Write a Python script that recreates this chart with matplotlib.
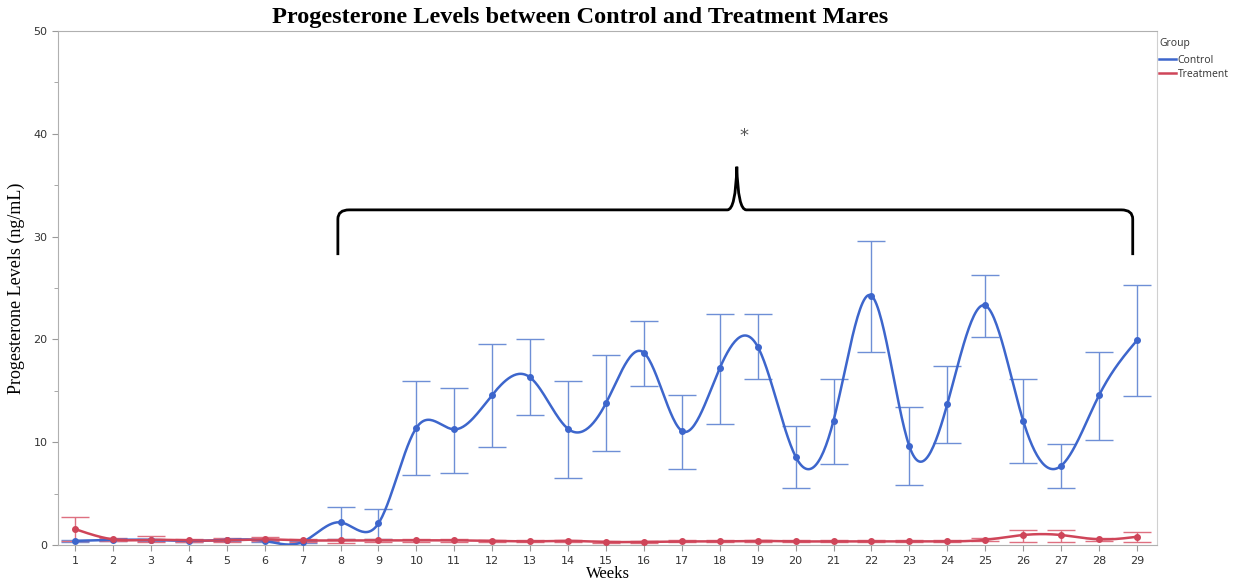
import matplotlib
matplotlib.use('Agg')
import matplotlib.pyplot as plt
from matplotlib.path import Path
from matplotlib.patches import PathPatch
from matplotlib.lines import Line2D
import numpy as np

## ======= data ======= ##
weeks = np.arange(1, 30)

ctrl_mean = [0.4, 0.5, 0.5, 0.4, 0.5, 0.4, 0.3, 2.2, 2.1, 11.4, 11.25, 14.6, 16.3, 11.3, 13.8,
             18.7, 11.1, 17.2, 19.3, 8.6, 12.1, 24.25, 9.6, 13.7, 23.3, 12.1, 7.7, 14.55, 19.9]
ctrl_top = [0.5, 0.6, 0.6, 0.5, 0.6, 0.5, 0.4, 3.7, 3.5, 16.0, 15.3, 19.6, 20.0, 16.0, 18.5,
            21.8, 14.6, 22.5, 22.5, 11.6, 16.1, 29.6, 13.4, 17.4, 26.3, 16.1, 9.8, 18.8, 25.3]
ctrl_bot = [0.3, 0.4, 0.4, 0.3, 0.4, 0.3, 0.2, 0.6, 0.6, 6.8, 7.0, 9.5, 12.6, 6.5, 9.1,
            15.5, 7.4, 11.8, 16.1, 5.5, 7.9, 18.8, 5.8, 9.9, 20.2, 8.0, 5.5, 10.2, 14.5]

trt_mean = [1.55, 0.55, 0.5, 0.45, 0.45, 0.55, 0.45, 0.45, 0.45, 0.45, 0.45, 0.4, 0.35, 0.4, 0.3,
            0.3, 0.35, 0.35, 0.4, 0.35, 0.35, 0.35, 0.35, 0.35, 0.5, 0.97, 0.97, 0.55, 0.8]
trt_top = [2.75, 0.7, 0.85, 0.6, 0.7, 0.75, 0.6, 0.6, 0.55, 0.55, 0.55, 0.5, 0.45, 0.5, 0.4,
           0.4, 0.45, 0.45, 0.5, 0.45, 0.45, 0.45, 0.45, 0.45, 0.65, 1.46, 1.46, 0.65, 1.23]
trt_bot = [0.35, 0.35, 0.25, 0.25, 0.3, 0.35, 0.3, 0.2, 0.25, 0.3, 0.3, 0.3, 0.25, 0.3, 0.2,
           0.2, 0.25, 0.25, 0.3, 0.25, 0.25, 0.25, 0.25, 0.25, 0.35, 0.32, 0.32, 0.4, 0.26]

blue = '#3D66CC'
blue_err = '#6E8FD6'
red = '#CF4559'
red_err = '#DE7080'


def natural_spline(x, y, n=30):
    # natural cubic spline through the weekly means, used only to draw the smooth line
    x = np.asarray(x, float)
    y = np.asarray(y, float)
    k = len(x)
    h = np.diff(x)
    A = np.zeros((k, k))
    r = np.zeros(k)
    A[0, 0] = A[-1, -1] = 1
    for i in range(1, k - 1):
        A[i, i - 1] = h[i - 1]
        A[i, i] = 2 * (h[i - 1] + h[i])
        A[i, i + 1] = h[i]
        r[i] = 6 * ((y[i + 1] - y[i]) / h[i] - (y[i] - y[i - 1]) / h[i - 1])
    M = np.linalg.solve(A, r)
    xs, ys = [], []
    for i in range(k - 1):
        t = np.linspace(x[i], x[i + 1], n, endpoint=(i == k - 2))
        a = x[i + 1] - t
        b = t - x[i]
        s = (M[i] * a ** 3 + M[i + 1] * b ** 3) / (6 * h[i]) \
            + (y[i] / h[i] - M[i] * h[i] / 6) * a + (y[i + 1] / h[i] - M[i + 1] * h[i] / 6) * b
        xs.append(t)
        ys.append(s)
    return np.concatenate(xs), np.concatenate(ys)


fig = plt.figure(figsize=(12.38, 5.8), dpi=100)
ax = fig.add_axes([58 / 1238, 35 / 580, 1099 / 1238, 514 / 580])

for m, top, bot, ec, lc in [(ctrl_mean, ctrl_top, ctrl_bot, blue_err, blue),
                            (trt_mean, trt_top, trt_bot, red_err, red)]:
    m = np.array(m)
    yerr = [m - np.array(bot), np.array(top) - m]
    ax.errorbar(weeks, m, yerr=yerr, fmt='none', ecolor=ec, elinewidth=1.0,
                capsize=10, capthick=1.0, zorder=2)
    sx, sy = natural_spline(weeks, m)
    ax.plot(sx, sy, color=lc, lw=1.8, zorder=3)
    ax.plot(weeks, m, 'o', color=lc, markersize=4, zorder=4)

ax.set_xlim(0.55, 29.53)
ax.set_ylim(0, 50)
ax.set_xticks(weeks)
ax.set_yticks(np.arange(0, 51, 10))
ax.set_yticks(np.arange(5, 50, 10), minor=True)
ax.tick_params(axis='both', colors='#999999', labelcolor='#333333', labelsize=8, length=4)
ax.tick_params(axis='x', pad=4)
ax.tick_params(axis='y', which='minor', colors='#999999', length=3)
for sp in ax.spines.values():
    sp.set_color('#B0B0B0')
ax.spines['right'].set_color('#D0D0D0')
for lab in ax.get_xticklabels() + ax.get_yticklabels():
    lab.set_family('DejaVu Sans')

ax.set_xlabel('Weeks', family='Liberation Serif', fontsize=12, labelpad=0)
ax.set_ylabel('Progesterone Levels (ng/mL)', family='Liberation Serif', fontsize=13, labelpad=6)

fig.text(580 / 1238, 1 - 17 / 580, 'Progesterone Levels between Control and Treatment Mares',
         family='Liberation Serif', weight='bold', fontsize=17.5, ha='center', va='center')

# significance brace over weeks 8-29
xl, xr, xc = 7.93, 28.89, 18.45
yb, yh, yt = 28.2, 32.6, 36.8
verts = [(xl, yb), (xl, yh - 0.9), (xl, yh), (xl + 0.3, yh),
         (xc - 0.25, yh), (xc - 0.03, yh), (xc, yt),
         (xc + 0.03, yh), (xc + 0.25, yh),
         (xr - 0.3, yh), (xr, yh), (xr, yh - 0.9), (xr, yb)]
codes = [Path.MOVETO, Path.LINETO, Path.CURVE3, Path.CURVE3,
         Path.LINETO, Path.CURVE3, Path.CURVE3,
         Path.CURVE3, Path.CURVE3,
         Path.LINETO, Path.CURVE3, Path.CURVE3, Path.LINETO]
ax.add_patch(PathPatch(Path(verts, codes), fill=False, lw=2, edgecolor='black', zorder=5))
ax.text(18.65, 39.8, '*', fontsize=13, color='#555555', ha='center', va='center',
        family='DejaVu Sans')

handles = [Line2D([], [], color=blue, lw=1.8), Line2D([], [], color=red, lw=1.8)]
leg = fig.legend(handles, ['Control', 'Treatment'], title='Group', loc='upper left',
                 bbox_to_anchor=(1158 / 1238, 1 - 37 / 580), frameon=False, fontsize=7.5,
                 title_fontsize=7.5, handlelength=1.6, handletextpad=0.2, borderaxespad=0,
                 borderpad=0.1, labelspacing=0.3, prop={'family': 'Open Sans', 'size': 7.5})
leg._legend_box.align = 'left'
leg._legend_box.sep = 4
for t in leg.get_texts():
    t.set_color('#333333')
leg.get_title().set_color('#333333')
leg.get_title().set_family('Open Sans')

fig.savefig('out.png', dpi=100)
